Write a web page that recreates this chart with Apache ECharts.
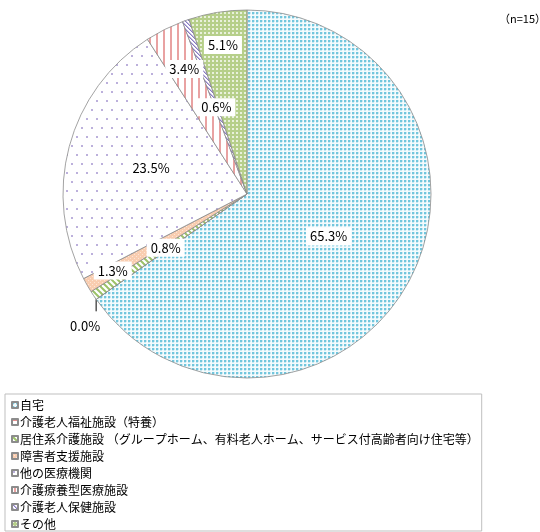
<!DOCTYPE html>
<html>
<head>
<meta charset="utf-8">
<script src="https://cdn.jsdelivr.net/npm/echarts@6/dist/echarts.min.js"></script>
<style>
html,body{margin:0;padding:0;background:#fff;}
#main{width:540px;height:532px;}
</style>
</head>
<body>
<div id="main"></div>
<script>
// ---- data ----
var categories = [
  '自宅',
  '介護老人福祉施設（特養）',
  '居住系介護施設 （グループホーム、有料老人ホーム、サービス付高齢者向け住宅等）',
  '障害者支援施設',
  '他の医療機関',
  '介護療養型医療施設',
  '介護老人保健施設',
  'その他'
];
var values = [65.3, 0.0, 0.8, 1.3, 23.5, 3.4, 0.6, 5.1];
var noteText = '（n=15）';

// ---- styles ----
var labelRadiusFrac = [0.5, 1.0, 0.53, 0.84, 0.54, 0.76, 0.5, 0.82];
var CX = 247, CY = 194, R = 184;

function makePattern(w, h, draw) {
  var c = document.createElement('canvas');
  c.width = w; c.height = h;
  var ctx = c.getContext('2d');
  draw(ctx, w, h);
  return {image: c, repeat: 'repeat'};
}
var patterns = [
  makePattern(4, 4, function (ctx) {
    ctx.fillStyle = '#f4fbfd'; ctx.fillRect(0, 0, 4, 4);
    ctx.fillStyle = '#72c6dd'; ctx.fillRect(0, 0, 2, 2);
    ctx.fillStyle = '#c9e9f2'; ctx.fillRect(2, 0, 1, 2); ctx.fillRect(0, 2, 2, 1);
  }),
  makePattern(6, 6, function (ctx) {
    ctx.fillStyle = '#ffffff'; ctx.fillRect(0, 0, 6, 6);
    ctx.fillStyle = '#e58f8f'; ctx.fillRect(0, 0, 6, 2);
  }),
  makePattern(6, 6, function (ctx) {
    ctx.fillStyle = '#ffffff'; ctx.fillRect(0, 0, 6, 6);
    ctx.strokeStyle = '#9cc268'; ctx.lineWidth = 2;
    ctx.beginPath(); ctx.moveTo(-1, -1); ctx.lineTo(7, 7); ctx.stroke();
    ctx.beginPath(); ctx.moveTo(-1, 5); ctx.lineTo(1, 7); ctx.stroke();
    ctx.beginPath(); ctx.moveTo(5, -1); ctx.lineTo(7, 1); ctx.stroke();
  }),
  makePattern(4, 4, function (ctx) {
    ctx.fillStyle = '#f9cdb0'; ctx.fillRect(0, 0, 4, 4);
    ctx.fillStyle = '#fde6d6'; ctx.fillRect(0, 0, 1, 1); ctx.fillRect(2, 2, 1, 1);
  }),
  makePattern(10, 18, function (ctx) {
    ctx.fillStyle = '#ffffff'; ctx.fillRect(0, 0, 10, 18);
    ctx.fillStyle = '#bcb0dc'; ctx.fillRect(1, 1, 2, 2); ctx.fillRect(6, 10, 2, 2);
  }),
  makePattern(7, 4, function (ctx) {
    ctx.fillStyle = '#ffffff'; ctx.fillRect(0, 0, 7, 4);
    ctx.fillStyle = '#e9a2a2'; ctx.fillRect(2, 0, 2, 4);
  }),
  makePattern(4, 4, function (ctx) {
    ctx.fillStyle = '#ffffff'; ctx.fillRect(0, 0, 4, 4);
    ctx.fillStyle = '#8a7cc2';
    ctx.fillRect(0, 0, 1, 1); ctx.fillRect(1, 1, 1, 1); ctx.fillRect(2, 2, 1, 1); ctx.fillRect(3, 3, 1, 1);
    ctx.fillStyle = '#c2b9e2';
    ctx.fillRect(1, 0, 1, 1); ctx.fillRect(2, 1, 1, 1); ctx.fillRect(3, 2, 1, 1); ctx.fillRect(0, 3, 1, 1);
  }),
  makePattern(4, 4, function (ctx) {
    ctx.fillStyle = '#b6cf8a'; ctx.fillRect(0, 0, 4, 4);
    ctx.fillStyle = '#e9f1dc'; ctx.fillRect(0, 0, 2, 2);
  })
];

var total = values.reduce(function (a, b) { return a + b; }, 0);
var midAngles = [];
var startAngles = [];
(function () {
  var cum = 0;
  for (var i = 0; i < values.length; i++) {
    startAngles.push(cum / total * 2 * Math.PI);
    midAngles.push((cum + values[i] / 2) / total * 2 * Math.PI);
    cum += values[i];
  }
})();

var seriesData = categories.map(function (name, i) {
  var d = {
    name: name,
    value: values[i],
    itemStyle: {color: patterns[i]}
  };
  if (i === 1) {
    d.label = {position: 'outside', backgroundColor: 'transparent'};
    d.labelLine = {show: true, length: 12, length2: 0, lineStyle: {color: '#000', width: 1}};
  }
  return d;
});

var chart = echarts.init(document.getElementById('main'), null, {renderer: 'canvas'});
chart.setOption({
  animation: false,
  backgroundColor: '#fff',
  title: {
    text: noteText,
    left: 494, top: 8,
    textStyle: {fontSize: 11, fontWeight: 'normal', color: '#000', fontFamily: 'Noto Sans CJK JP'}
  },
  legend: {
    orient: 'vertical',
    left: 5, top: 394,
    padding: [4, 3, 0, 6],
    itemWidth: 6, itemHeight: 6,
    itemGap: 3,
    borderColor: '#bfbfbf', borderWidth: 1,
    backgroundColor: '#fff',
    icon: 'rect',
    selectedMode: false,
    textStyle: {fontSize: 12, lineHeight: 14, color: '#000', fontFamily: 'Noto Sans CJK JP', padding: [0, 0, 0, -3]},
    data: categories
  },
  series: [{
    type: 'pie',
    center: [CX, CY],
    radius: R,
    startAngle: 90,
    clockwise: true,
    avoidLabelOverlap: false,
    stillShowZeroSum: true,
    itemStyle: {borderColor: '#8c8c8c', borderWidth: 0.8},
    label: {
      show: true,
      position: 'inside',
      formatter: function (p) { return p.value.toFixed(1) + '%'; },
      fontSize: 13,
      color: '#000',
      fontFamily: 'Noto Sans CJK JP',
      backgroundColor: '#fff',
      padding: [3, 4, 2, 4]
    },
    labelLine: {show: false},
    emphasis: {disabled: true},
    labelLayout: function (params) {
      var i = params.dataIndex;
      var a = midAngles[i];
      if (i === 1) {
        var ex = CX + R * Math.sin(startAngles[i]);
        var ey = CY - R * Math.cos(startAngles[i]);
        return {
          x: ex - 11, y: ey + 27, align: 'center', verticalAlign: 'middle',
          labelLinePoints: [[ex, ey], [ex, ey + 12], [ex, ey + 12]]
        };
      }
      var r = R * labelRadiusFrac[i];
      return {
        x: CX + r * Math.sin(a),
        y: CY - r * Math.cos(a),
        align: 'center', verticalAlign: 'middle'
      };
    },
    data: seriesData
  }]
});
</script>
</body>
</html>
